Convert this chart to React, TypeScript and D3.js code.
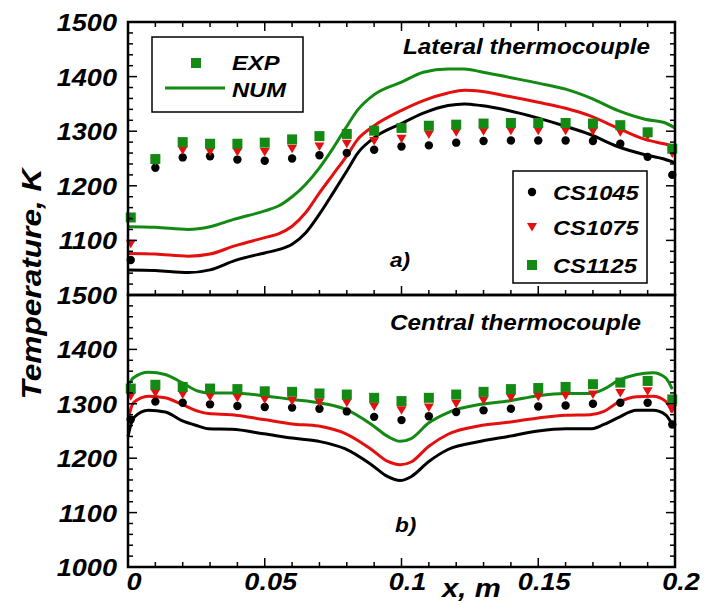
import React from 'react';
import * as d3 from 'd3';

// experimental points, x in m
const expX = [0.001, 0.01, 0.02, 0.03, 0.04, 0.05, 0.06, 0.07, 0.08, 0.09, 0.1, 0.11, 0.12, 0.13, 0.14, 0.15, 0.16, 0.17, 0.18, 0.19, 0.199];

// lateral thermocouple (a)
const latExp1045 = [1064, 1233, 1252, 1254, 1248, 1246, 1250, 1256, 1260, 1266, 1272, 1274, 1279, 1282, 1283, 1283, 1283, 1282, 1277, 1253, 1220];
const latExp1075 = [1094, 1245, 1265, 1263, 1262, 1262, 1268, 1272, 1277, 1282, 1286, 1294, 1298, 1300, 1301, 1301, 1301, 1300, 1298, 1291, 1259];
const latExp1125 = [1142, 1249, 1280, 1277, 1277, 1279, 1285, 1291, 1295, 1301, 1306, 1310, 1312, 1314, 1315, 1315, 1315, 1314, 1311, 1298, 1268];

const latNumX = [0, 0.01, 0.022, 0.03, 0.039, 0.05, 0.055, 0.06, 0.065, 0.07, 0.075, 0.08, 0.084, 0.09, 0.1, 0.108, 0.117, 0.123, 0.129, 0.139, 0.15, 0.16, 0.169, 0.179, 0.189, 0.196, 0.2];
const latNum1045 = [1046, 1045, 1041, 1046, 1063, 1077, 1083, 1093, 1114, 1148, 1187, 1227, 1260, 1288, 1314, 1333, 1347, 1350, 1347, 1338, 1324, 1309, 1294, 1272, 1257, 1249, 1242];
const latNum1075 = [1076, 1075, 1071, 1075, 1090, 1105, 1112, 1126, 1151, 1187, 1221, 1255, 1285, 1310, 1338, 1356, 1370, 1375, 1373, 1364, 1353, 1342, 1328, 1306, 1285, 1277, 1272];
const latNum1125 = [1125, 1124, 1120, 1125, 1139, 1154, 1163, 1180, 1203, 1233, 1269, 1309, 1339, 1367, 1390, 1408, 1414, 1414, 1409, 1399, 1388, 1377, 1361, 1338, 1322, 1316, 1306];

// central thermocouple (b)
const cenExp1045 = [1271, 1304, 1302, 1299, 1296, 1294, 1293, 1291, 1286, 1276, 1270, 1277, 1285, 1288, 1291, 1295, 1297, 1300, 1302, 1302, 1262];
const cenExp1075 = [1314, 1320, 1317, 1313, 1311, 1308, 1305, 1303, 1302, 1295, 1288, 1293, 1300, 1306, 1311, 1313, 1315, 1317, 1320, 1323, 1291];
const cenExp1125 = [1328, 1335, 1331, 1328, 1327, 1323, 1322, 1319, 1317, 1311, 1305, 1311, 1317, 1322, 1327, 1329, 1331, 1336, 1339, 1342, 1308];

const cenNumX = [0, 0.002, 0.0075, 0.0136, 0.0197, 0.0258, 0.0294, 0.038, 0.0496, 0.06, 0.0697, 0.0795, 0.089, 0.095, 0.0995, 0.1035, 0.11, 0.117, 0.129, 0.139, 0.15, 0.16, 0.169, 0.174, 0.179, 0.186, 0.192, 0.1965, 0.199];
const cenNum1045 = [1240, 1274, 1288, 1285, 1269, 1259, 1254, 1253, 1245, 1237, 1231, 1217, 1188, 1166, 1159, 1166, 1194, 1216, 1231, 1240, 1250, 1254, 1254, 1262, 1274, 1288, 1288, 1280, 1262];
const cenNum1075 = [1271, 1302, 1314, 1311, 1299, 1286, 1282, 1280, 1271, 1263, 1259, 1245, 1216, 1194, 1188, 1193, 1222, 1244, 1260, 1266, 1274, 1279, 1280, 1286, 1302, 1313, 1314, 1305, 1284];
const cenNum1125 = [1333, 1348, 1358, 1354, 1339, 1323, 1320, 1320, 1315, 1308, 1302, 1290, 1262, 1240, 1231, 1236, 1265, 1284, 1299, 1305, 1315, 1319, 1319, 1327, 1342, 1354, 1357, 1348, 1327];

const xTickLabels = ['0', '0.05', '0.1', '0.15', '0.2'];
const topYLabels = ['1500', '1400', '1300', '1200', '1100'];
const botYLabels = ['1500', '1400', '1300', '1200', '1100', '1000'];

const GREEN = '#138a13';
const RED = '#e4100f';
const FONT = '"Liberation Sans", Arial, sans-serif';
const SX = 1.13;

const W = 704;
const H = 605;
const left = 128;
const right = 675;
const topY0 = 22;
const midY = 295;
const botY1 = 567;

const x = d3.scaleLinear().domain([0, 0.2]).range([left, right]);
const yTop = d3.scaleLinear().domain([1000, 1500]).range([midY, topY0]);
const yBot = d3.scaleLinear().domain([1000, 1500]).range([botY1, midY]);

const Txt = ({ x: tx, y: ty, size, anchor = 'start', children, rotate = 0 }: any) => (
  <text
    transform={`translate(${tx},${ty}) rotate(${rotate}) scale(${SX},1)`}
    fontFamily={FONT}
    fontWeight="bold"
    fontStyle="italic"
    fontSize={size}
    textAnchor={anchor}
    fill="#000"
  >
    {children}
  </text>
);

const tri = (cx: number, cy: number, s = 5) =>
  `M${cx - s},${cy - s * 0.8}L${cx + s},${cy - s * 0.8}L${cx},${cy + s * 0.9}Z`;

const Panel = ({ y, num, exp, numX, labels, showTopTicks }: any) => {
  const line = (vals: number[]) =>
    d3
      .line<number>()
      .x((_, i) => x(numX[i]))
      .y((d) => y(d))
      .curve(d3.curveMonotoneX)(vals) as string;
  const [y0, y1] = y.range();
  const xt = d3.range(0, 21).map((i) => i * 0.01);
  const yt = y.ticks(25);
  return (
    <g>
      {/* curves */}
      <path d={line(num[0])} fill="none" stroke="#000" strokeWidth={3} />
      <path d={line(num[1])} fill="none" stroke={RED} strokeWidth={3} />
      <path d={line(num[2])} fill="none" stroke={GREEN} strokeWidth={3} />
      {/* markers */}
      {exp[0].map((v: number, i: number) => (
        <circle key={'c' + i} cx={x(expX[i])} cy={y(v)} r={4.2} fill="#000" />
      ))}
      {exp[1].map((v: number, i: number) => (
        <path key={'t' + i} d={tri(x(expX[i]), y(v))} fill={RED} />
      ))}
      {exp[2].map((v: number, i: number) => (
        <rect key={'s' + i} x={x(expX[i]) - 5} y={y(v) - 5} width={10} height={10} fill={GREEN} />
      ))}
      {/* ticks */}
      {xt.map((t, i) => {
        const len = i % 5 === 0 ? 9 : 5;
        return (
          <g key={'xt' + i}>
            <line x1={x(t)} x2={x(t)} y1={y0} y2={y0 - len} stroke="#000" strokeWidth={1.5} />
            {showTopTicks && (
              <line x1={x(t)} x2={x(t)} y1={y1} y2={y1 + len} stroke="#000" strokeWidth={1.5} />
            )}
          </g>
        );
      })}
      {yt.map((t: number, i: number) => {
        const len = t % 100 === 0 ? 9 : 5;
        return (
          <g key={'yt' + i}>
            <line x1={left} x2={left + len} y1={y(t)} y2={y(t)} stroke="#000" strokeWidth={1.5} />
            <line x1={right} x2={right - len} y1={y(t)} y2={y(t)} stroke="#000" strokeWidth={1.5} />
          </g>
        );
      })}
      <rect x={left} y={y1} width={right - left} height={y0 - y1} fill="none" stroke="#000" strokeWidth={2.5} />
      {labels.map((l: string) => (
        <Txt key={l} x={117} y={y(+l) + 9} size={24} anchor="end">
          {l}
        </Txt>
      ))}
    </g>
  );
};

export default function App() {
  return (
    <svg width={W} height={H} style={{ position: 'absolute', left: 0, top: 0, background: '#fff' }}>
      <rect width={W} height={H} fill="#fff" />
      <Panel
        y={yTop}
        numX={latNumX}
        num={[latNum1045, latNum1075, latNum1125]}
        exp={[latExp1045, latExp1075, latExp1125]}
        labels={topYLabels}
        showTopTicks
      />
      <Panel
        y={yBot}
        numX={cenNumX}
        num={[cenNum1045, cenNum1075, cenNum1125]}
        exp={[cenExp1045, cenExp1075, cenExp1125]}
        labels={botYLabels}
        showTopTicks={false}
      />

      {/* panel texts */}
      <Txt x={403} y={54} size={21.5}>Lateral thermocouple</Txt>
      <Txt x={390} y={330} size={21.5}>Central thermocouple</Txt>
      <Txt x={390} y={267} size={20}>a)</Txt>
      <Txt x={395} y={532} size={20}>b)</Txt>

      {/* EXP / NUM legend */}
      <rect x={152} y={37} width={151} height={75} fill="#fff" stroke="#000" strokeWidth={1.5} />
      <rect x={191} y={58} width={10} height={10} fill={GREEN} />
      <line x1={165} x2={225} y1={88} y2={88} stroke={GREEN} strokeWidth={3} />
      <Txt x={232} y={70} size={21}>EXP</Txt>
      <Txt x={232} y={97} size={21}>NUM</Txt>

      {/* series legend */}
      <rect x={513} y={171} width={134} height={112} fill="#fff" stroke="#000" strokeWidth={1.5} />
      <circle cx={532} cy={192} r={4.2} fill="#000" />
      <path d={tri(532, 227)} fill={RED} />
      <rect x={527} y={260} width={10} height={10} fill={GREEN} />
      <Txt x={553} y={200} size={21}>CS1045</Txt>
      <Txt x={553} y={235} size={21}>CS1075</Txt>
      <Txt x={553} y={273} size={21}>CS1125</Txt>

      {/* x axis labels */}
      {xTickLabels.map((l) => (
        <Txt key={l} x={x(+l) + 6} y={590} size={24} anchor="middle">
          {l}
        </Txt>
      ))}
      <Txt x={442} y={597} size={26}>x, m</Txt>
      <Txt x={41} y={284} size={28} anchor="middle" rotate={-90}>Temperature, K</Txt>
    </svg>
  );
}
